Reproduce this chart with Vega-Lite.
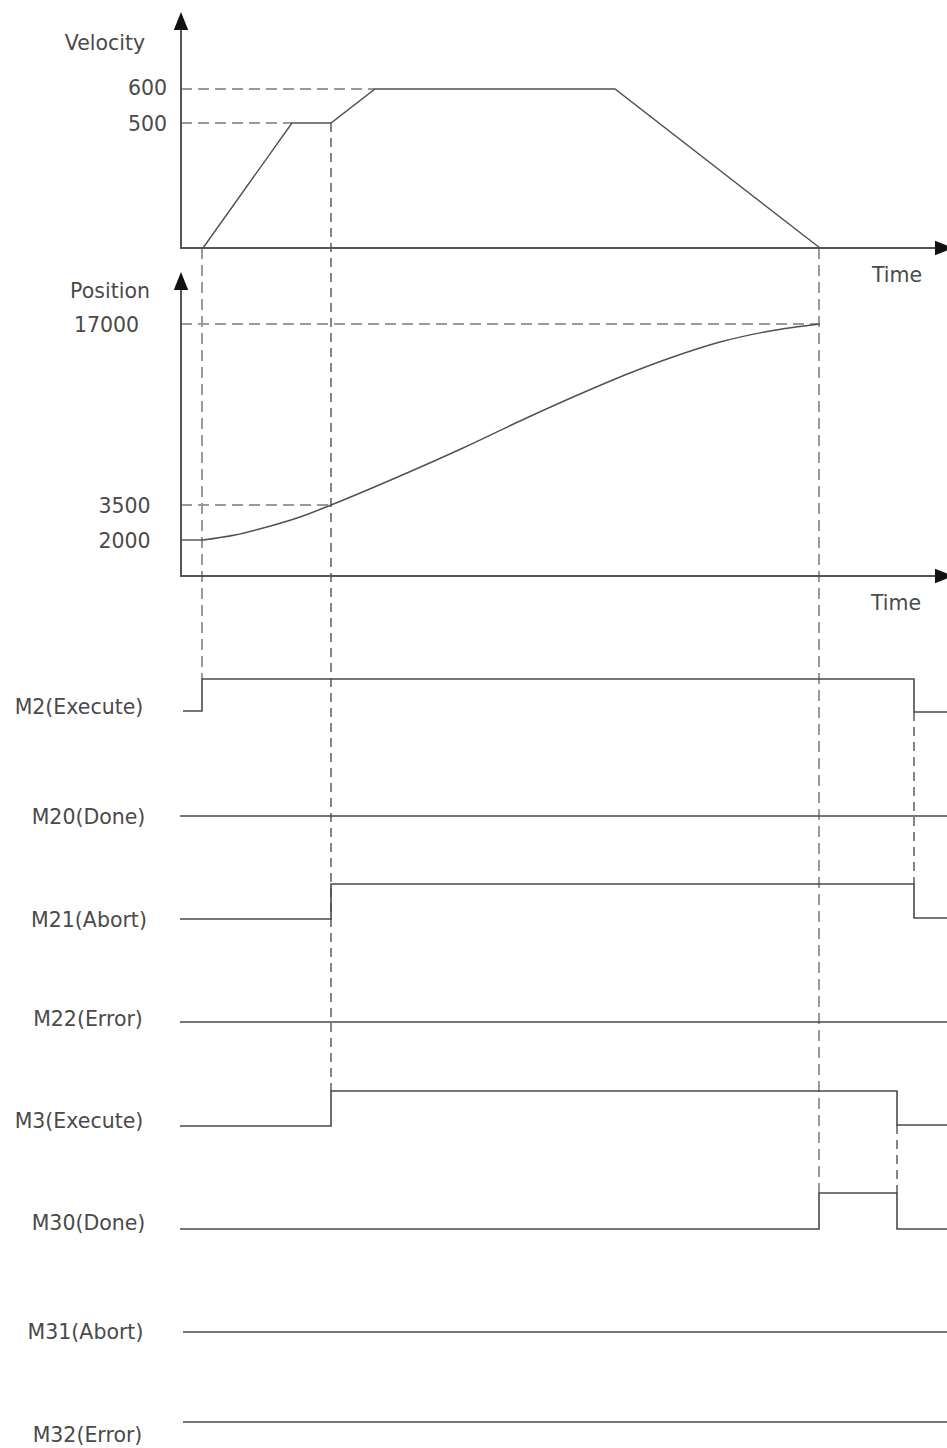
{
  "$schema": "https://vega.github.io/schema/vega-lite/v6.json",
  "width": 947,
  "height": 1448,
  "padding": 0,
  "autosize": {"type": "none"},
  "background": "white",
  "config": {"view": {"stroke": null}},
  "datasets": {
    "lines": [
      {"s": "vaxis", "k": "axis", "o": 1, "t": 181, "v": 28},
      {"s": "vaxis", "k": "axis", "o": 2, "t": 181, "v": 248},
      {"s": "vaxis", "k": "axis", "o": 3, "t": 938, "v": 248},
      {"s": "paxis", "k": "axis", "o": 1, "t": 181, "v": 288},
      {"s": "paxis", "k": "axis", "o": 2, "t": 181, "v": 576},
      {"s": "paxis", "k": "axis", "o": 3, "t": 938, "v": 576},
      {"s": "vel", "k": "vel", "o": 1, "t": 203, "v": 248},
      {"s": "vel", "k": "vel", "o": 2, "t": 292, "v": 123},
      {"s": "vel", "k": "vel", "o": 3, "t": 331, "v": 123},
      {"s": "vel", "k": "vel", "o": 4, "t": 375, "v": 89},
      {"s": "vel", "k": "vel", "o": 5, "t": 615, "v": 89},
      {"s": "vel", "k": "vel", "o": 6, "t": 820, "v": 248},
      {"s": "pos0", "k": "vel", "o": 1, "t": 181, "v": 540},
      {"s": "pos0", "k": "vel", "o": 2, "t": 203, "v": 540},
      {"s": "pos", "k": "pos", "o": 1, "t": 203, "v": 540},
      {"s": "pos", "k": "pos", "o": 2, "t": 235, "v": 535},
      {"s": "pos", "k": "pos", "o": 3, "t": 267, "v": 527},
      {"s": "pos", "k": "pos", "o": 4, "t": 300, "v": 517},
      {"s": "pos", "k": "pos", "o": 5, "t": 331, "v": 505},
      {"s": "pos", "k": "pos", "o": 6, "t": 400, "v": 476},
      {"s": "pos", "k": "pos", "o": 7, "t": 463, "v": 448},
      {"s": "pos", "k": "pos", "o": 8, "t": 520, "v": 421},
      {"s": "pos", "k": "pos", "o": 9, "t": 580, "v": 394},
      {"s": "pos", "k": "pos", "o": 10, "t": 630, "v": 373},
      {"s": "pos", "k": "pos", "o": 11, "t": 670, "v": 358},
      {"s": "pos", "k": "pos", "o": 12, "t": 720, "v": 342},
      {"s": "pos", "k": "pos", "o": 13, "t": 770, "v": 331},
      {"s": "pos", "k": "pos", "o": 14, "t": 820, "v": 324},
      {"s": "M2", "k": "sig", "o": 1, "t": 183, "v": 711},
      {"s": "M2", "k": "sig", "o": 2, "t": 202, "v": 711},
      {"s": "M2", "k": "sig", "o": 3, "t": 202, "v": 679},
      {"s": "M2", "k": "sig", "o": 4, "t": 914, "v": 679},
      {"s": "M2", "k": "sig", "o": 5, "t": 914, "v": 712},
      {"s": "M2", "k": "sig", "o": 6, "t": 947, "v": 712},
      {"s": "M20", "k": "sig", "o": 1, "t": 180, "v": 816},
      {"s": "M20", "k": "sig", "o": 2, "t": 947, "v": 816},
      {"s": "M21", "k": "sig", "o": 1, "t": 180, "v": 919},
      {"s": "M21", "k": "sig", "o": 2, "t": 331, "v": 919},
      {"s": "M21", "k": "sig", "o": 3, "t": 331, "v": 884},
      {"s": "M21", "k": "sig", "o": 4, "t": 914, "v": 884},
      {"s": "M21", "k": "sig", "o": 5, "t": 914, "v": 918},
      {"s": "M21", "k": "sig", "o": 6, "t": 947, "v": 918},
      {"s": "M22", "k": "sig", "o": 1, "t": 180, "v": 1022},
      {"s": "M22", "k": "sig", "o": 2, "t": 947, "v": 1022},
      {"s": "M3", "k": "sig", "o": 1, "t": 180, "v": 1126},
      {"s": "M3", "k": "sig", "o": 2, "t": 331, "v": 1126},
      {"s": "M3", "k": "sig", "o": 3, "t": 331, "v": 1091},
      {"s": "M3", "k": "sig", "o": 4, "t": 897, "v": 1091},
      {"s": "M3", "k": "sig", "o": 5, "t": 897, "v": 1125},
      {"s": "M3", "k": "sig", "o": 6, "t": 947, "v": 1125},
      {"s": "M30", "k": "sig", "o": 1, "t": 180, "v": 1229},
      {"s": "M30", "k": "sig", "o": 2, "t": 819, "v": 1229},
      {"s": "M30", "k": "sig", "o": 3, "t": 819, "v": 1193},
      {"s": "M30", "k": "sig", "o": 4, "t": 897, "v": 1193},
      {"s": "M30", "k": "sig", "o": 5, "t": 897, "v": 1229},
      {"s": "M30", "k": "sig", "o": 6, "t": 947, "v": 1229},
      {"s": "M31", "k": "sig", "o": 1, "t": 183, "v": 1332},
      {"s": "M31", "k": "sig", "o": 2, "t": 947, "v": 1332},
      {"s": "M32", "k": "sig", "o": 1, "t": 183, "v": 1422},
      {"s": "M32", "k": "sig", "o": 2, "t": 947, "v": 1422}
    ],
    "dashes": [
      {"k": "guide", "t": 181, "v": 89, "t2": 375, "v2": 89},
      {"k": "guide", "t": 181, "v": 123, "t2": 292, "v2": 123},
      {"k": "guide", "t": 181, "v": 324, "t2": 820, "v2": 324},
      {"k": "guide", "t": 181, "v": 505, "t2": 331, "v2": 505},
      {"k": "guide", "t": 202, "v": 248, "t2": 202, "v2": 679},
      {"k": "guide", "t": 819, "v": 248, "t2": 819, "v2": 1193},
      {"k": "mark", "t": 331, "v": 123, "t2": 331, "v2": 1091},
      {"k": "mark", "t": 914, "v": 712, "t2": 914, "v2": 884},
      {"k": "mark", "t": 897, "v": 1125, "t2": 897, "v2": 1193}
    ],
    "arrows": [
      {"dir": "up", "t": 181, "v": 21},
      {"dir": "up", "t": 181, "v": 281},
      {"dir": "right", "t": 944, "v": 248},
      {"dir": "right", "t": 944, "v": 576}
    ],
    "labels": [
      {"t": 105, "v": 50, "text": "Velocity"},
      {"t": 147.5, "v": 95, "text": "600"},
      {"t": 147.5, "v": 131, "text": "500"},
      {"t": 897, "v": 282, "text": "Time"},
      {"t": 110, "v": 298, "text": "Position"},
      {"t": 106.5, "v": 332, "text": "17000"},
      {"t": 124.5, "v": 513, "text": "3500"},
      {"t": 124.5, "v": 548, "text": "2000"},
      {"t": 896, "v": 610, "text": "Time"},
      {"t": 79, "v": 714, "text": "M2(Execute)"},
      {"t": 88.5, "v": 824, "text": "M20(Done)"},
      {"t": 89, "v": 927, "text": "M21(Abort)"},
      {"t": 88, "v": 1026, "text": "M22(Error)"},
      {"t": 79, "v": 1128, "text": "M3(Execute)"},
      {"t": 88.5, "v": 1230, "text": "M30(Done)"},
      {"t": 85.5, "v": 1339, "text": "M31(Abort)"},
      {"t": 87.5, "v": 1442, "text": "M32(Error)"}
    ]
  },
  "encoding": {
    "x": {"field": "t", "type": "quantitative", "scale": {"domain": [0, 947], "nice": false, "zero": false}, "axis": null},
    "y": {"field": "v", "type": "quantitative", "scale": {"domain": [0, 1448], "nice": false, "zero": false, "reverse": true}, "axis": null}
  },
  "layer": [
    {
      "data": {"name": "dashes"},
      "transform": [{"filter": "datum.k === 'guide'"}],
      "mark": {"type": "rule", "color": "#9a9a9a", "strokeWidth": 2, "strokeDash": [11, 6]},
      "encoding": {"x2": {"field": "t2"}, "y2": {"field": "v2"}}
    },
    {
      "data": {"name": "dashes"},
      "transform": [{"filter": "datum.k === 'mark'"}],
      "mark": {"type": "rule", "color": "#444444", "strokeWidth": 1.3, "strokeDash": [9, 6]},
      "encoding": {"x2": {"field": "t2"}, "y2": {"field": "v2"}}
    },
    {
      "data": {"name": "lines"},
      "transform": [{"filter": "datum.k === 'axis'"}],
      "mark": {"type": "line", "color": "#555555", "strokeWidth": 2, "strokeJoin": "miter"},
      "encoding": {"detail": {"field": "s"}, "order": {"field": "o"}}
    },
    {
      "data": {"name": "lines"},
      "transform": [{"filter": "datum.k === 'vel'"}],
      "mark": {"type": "line", "color": "#505050", "strokeWidth": 1.4},
      "encoding": {"detail": {"field": "s"}, "order": {"field": "o"}}
    },
    {
      "data": {"name": "lines"},
      "transform": [{"filter": "datum.k === 'pos'"}],
      "mark": {"type": "line", "color": "#505050", "strokeWidth": 1.4, "interpolate": "monotone"},
      "encoding": {"detail": {"field": "s"}, "order": {"field": "o"}}
    },
    {
      "data": {"name": "lines"},
      "transform": [{"filter": "datum.k === 'sig'"}],
      "mark": {"type": "line", "color": "#4a4a4a", "strokeWidth": 1.6, "strokeJoin": "miter"},
      "encoding": {"detail": {"field": "s"}, "order": {"field": "o"}}
    },
    {
      "data": {"name": "arrows"},
      "mark": {"type": "point", "filled": true, "color": "#111111", "opacity": 1, "size": 324},
      "encoding": {
        "shape": {"field": "dir", "type": "nominal", "scale": {"domain": ["up", "right"], "range": ["M0,-1L0.8,1L-0.8,1Z", "M1,0L-1,0.8L-1,-0.8Z"]}, "legend": null}
      }
    },
    {
      "data": {"name": "labels"},
      "mark": {"type": "text", "align": "center", "baseline": "alphabetic", "font": "DejaVu Sans", "fontSize": 20.5, "color": "#4a4a4a"},
      "encoding": {"text": {"field": "text"}}
    }
  ]
}
